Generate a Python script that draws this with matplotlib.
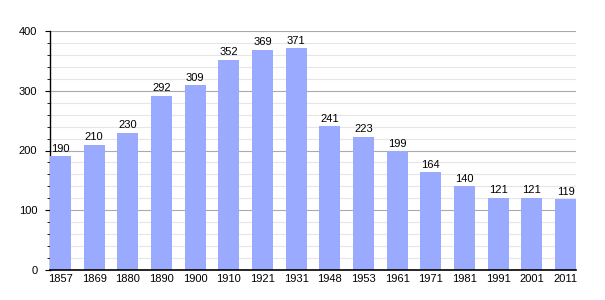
import matplotlib
matplotlib.use("Agg")
import matplotlib.pyplot as plt
import numpy as np
from matplotlib.ticker import MultipleLocator

years = ["1857", "1869", "1880", "1890", "1900", "1910", "1921", "1931",
         "1948", "1953", "1961", "1971", "1981", "1991", "2001", "2011"]
population = [190, 210, 230, 292, 309, 352, 369, 371,
              241, 223, 199, 164, 140, 121, 121, 119]

plt.rcParams["font.family"] = ["Liberation Sans", "DejaVu Sans"]

fig = plt.figure(figsize=(6.05, 3.0), dpi=100)
ax = fig.add_axes([50 / 605, 30 / 300, 526 / 605, 239 / 300])

w = 0.62
x = np.arange(len(years))
ax.bar(x, population, width=w, color="#99aaff", zorder=3)
for xi, v in zip(x, population):
    ax.text(xi, v + 4, str(v), ha="center", va="bottom", fontsize=8, zorder=4)

ax.set_xlim(-w / 2, len(years) - 1 + w / 2)
ax.set_ylim(0, 400)
ax.set_xticks(x)
ax.set_xticklabels(years, fontsize=8)
ax.tick_params(axis="x", length=0, pad=3)
ax.yaxis.set_major_locator(MultipleLocator(100))
ax.yaxis.set_minor_locator(MultipleLocator(20))
ax.tick_params(axis="y", which="major", length=3.6, labelsize=8, pad=5.5)
ax.tick_params(axis="y", which="minor", length=2.2)
ax.grid(axis="y", which="major", color="#aaaaaa", linewidth=0.8, zorder=1)
ax.grid(axis="y", which="minor", color="#e6e6e6", linewidth=0.8, zorder=0)
for s in ["top", "right"]:
    ax.spines[s].set_visible(False)
ax.spines["left"].set_linewidth(1.0)
ax.spines["bottom"].set_linewidth(1.2)
ax.spines["bottom"].set_zorder(5)

fig.savefig("out.png", dpi=100)
